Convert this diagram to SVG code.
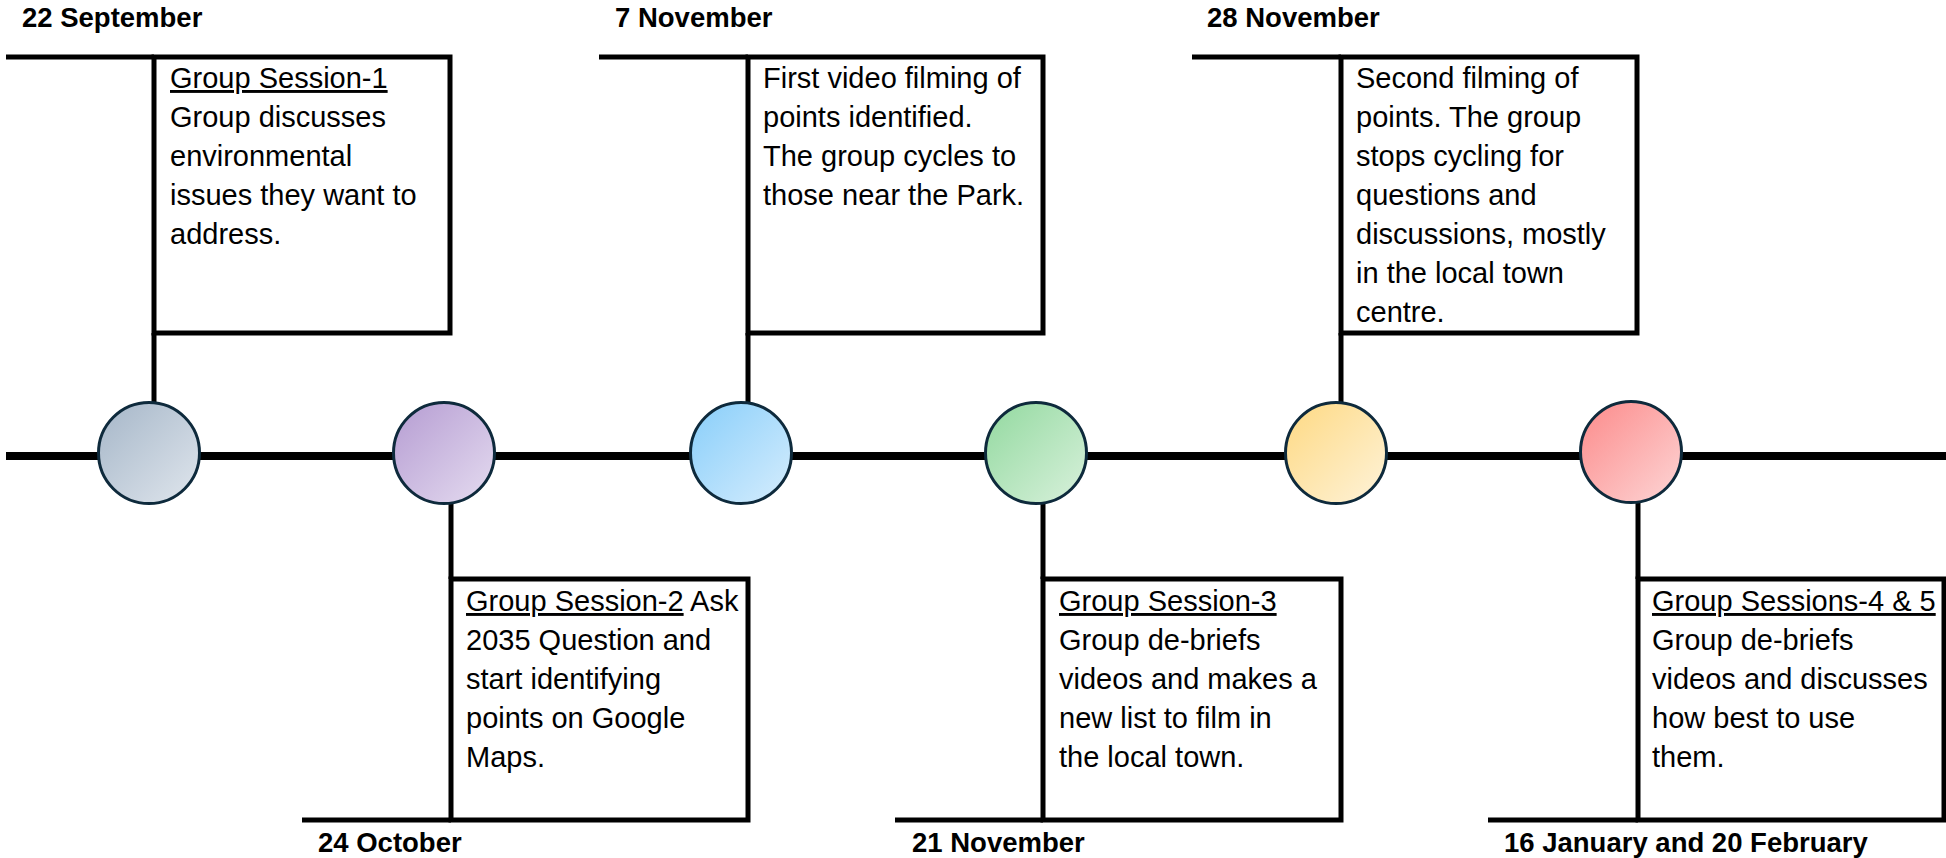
<svg xmlns="http://www.w3.org/2000/svg" width="1946" height="858" viewBox="0 0 1946 858">
  <style>
    .bg { fill: #ffffff; }
    .line { stroke: #000000; stroke-width: 5; fill: none; }
    .box { stroke: #000000; stroke-width: 5; fill: #ffffff; }
    .axis { stroke: #000000; stroke-width: 8; fill: none; }
    .dot { stroke: #0e2a3c; stroke-width: 3; }
    .body { font-family: "Liberation Sans", Arial, sans-serif; font-size: 29px; fill: #000000; }
    .date { font-family: "Liberation Sans", Arial, sans-serif; font-size: 27.5px; font-weight: bold; fill: #000000; }
    .u { text-decoration: underline; }
  </style>
  <defs>
    <linearGradient id="g1" x1="0" y1="0" x2="1" y2="1"><stop offset="0" stop-color="#a5b6c8"/><stop offset="1" stop-color="#e0e6ed"/></linearGradient>
    <linearGradient id="g2" x1="0" y1="0" x2="1" y2="1"><stop offset="0" stop-color="#b59cd2"/><stop offset="1" stop-color="#e5dcf0"/></linearGradient>
    <linearGradient id="g3" x1="0" y1="0" x2="1" y2="1"><stop offset="0" stop-color="#88cefa"/><stop offset="1" stop-color="#d6edfd"/></linearGradient>
    <linearGradient id="g4" x1="0" y1="0" x2="1" y2="1"><stop offset="0" stop-color="#92d99f"/><stop offset="1" stop-color="#d9f1dc"/></linearGradient>
    <linearGradient id="g5" x1="0" y1="0" x2="1" y2="1"><stop offset="0" stop-color="#fed982"/><stop offset="1" stop-color="#fef3da"/></linearGradient>
    <linearGradient id="g6" x1="0" y1="0" x2="1" y2="1"><stop offset="0" stop-color="#fc8a8a"/><stop offset="1" stop-color="#fdd6d6"/></linearGradient>
  </defs>
  <rect class="bg" x="0" y="0" width="1946" height="858"/>

  <g id="connectors">
    <line class="axis" x1="6" y1="456" x2="1946" y2="456"/>
    <line class="line" x1="6" y1="57" x2="154" y2="57"/>
    <line class="line" x1="154" y1="333" x2="154" y2="403"/>
    <line class="line" x1="451" y1="503" x2="451" y2="579"/>
    <line class="line" x1="302" y1="820" x2="451" y2="820"/>
    <line class="line" x1="599" y1="57" x2="748" y2="57"/>
    <line class="line" x1="748" y1="333" x2="748" y2="403"/>
    <line class="line" x1="1043" y1="503" x2="1043" y2="579"/>
    <line class="line" x1="895" y1="820" x2="1043" y2="820"/>
    <line class="line" x1="1192" y1="57" x2="1341" y2="57"/>
    <line class="line" x1="1341" y1="333" x2="1341" y2="403"/>
    <line class="line" x1="1638" y1="503" x2="1638" y2="579"/>
    <line class="line" x1="1488" y1="820" x2="1638" y2="820"/>
  </g>

  <g id="node-1">
    <circle class="dot" cx="149" cy="453" r="50.5" fill="url(#g1)"/>
    <rect class="box" x="154" y="57" width="296" height="276"/>
    <text class="date" x="22" y="27">22 September</text>
    <text class="body" x="170" y="88"><tspan class="u">Group Session-1</tspan></text>
    <text class="body" x="170" y="127">Group discusses</text>
    <text class="body" x="170" y="166">environmental</text>
    <text class="body" x="170" y="205">issues they want to</text>
    <text class="body" x="170" y="244">address.</text>
  </g>

  <g id="node-2">
    <circle class="dot" cx="444" cy="453" r="50.5" fill="url(#g2)"/>
    <rect class="box" x="451" y="579" width="297" height="241"/>
    <text class="date" x="318" y="852">24 October</text>
    <text class="body" x="466" y="611"><tspan class="u">Group Session-2</tspan> Ask</text>
    <text class="body" x="466" y="650">2035 Question and</text>
    <text class="body" x="466" y="689">start identifying</text>
    <text class="body" x="466" y="728">points on Google</text>
    <text class="body" x="466" y="767">Maps.</text>
  </g>

  <g id="node-3">
    <circle class="dot" cx="741" cy="453" r="50.5" fill="url(#g3)"/>
    <rect class="box" x="748" y="57" width="295" height="276"/>
    <text class="date" x="615" y="27">7 November</text>
    <text class="body" x="763" y="88">First video filming of</text>
    <text class="body" x="763" y="127">points identified.</text>
    <text class="body" x="763" y="166">The group cycles to</text>
    <text class="body" x="763" y="205">those near the Park.</text>
  </g>

  <g id="node-4">
    <circle class="dot" cx="1036" cy="453" r="50.5" fill="url(#g4)"/>
    <rect class="box" x="1043" y="579" width="298" height="241"/>
    <text class="date" x="912" y="852">21 November</text>
    <text class="body" x="1059" y="611"><tspan class="u">Group Session-3</tspan></text>
    <text class="body" x="1059" y="650">Group de-briefs</text>
    <text class="body" x="1059" y="689">videos and makes a</text>
    <text class="body" x="1059" y="728">new list to film in</text>
    <text class="body" x="1059" y="767">the local town.</text>
  </g>

  <g id="node-5">
    <circle class="dot" cx="1336" cy="453" r="50.5" fill="url(#g5)"/>
    <rect class="box" x="1341" y="57" width="296" height="276"/>
    <text class="date" x="1207" y="27">28 November</text>
    <text class="body" x="1356" y="88">Second filming of</text>
    <text class="body" x="1356" y="127">points. The group</text>
    <text class="body" x="1356" y="166">stops cycling for</text>
    <text class="body" x="1356" y="205">questions and</text>
    <text class="body" x="1356" y="244">discussions, mostly</text>
    <text class="body" x="1356" y="283">in the local town</text>
    <text class="body" x="1356" y="322">centre.</text>
  </g>

  <g id="node-6">
    <circle class="dot" cx="1631" cy="452" r="50.5" fill="url(#g6)"/>
    <rect class="box" x="1638" y="579" width="306" height="241"/>
    <text class="date" x="1504" y="852">16 January and 20 February</text>
    <text class="body" x="1652" y="611"><tspan class="u">Group Sessions-4 &amp; 5</tspan></text>
    <text class="body" x="1652" y="650">Group de-briefs</text>
    <text class="body" x="1652" y="689">videos and discusses</text>
    <text class="body" x="1652" y="728">how best to use</text>
    <text class="body" x="1652" y="767">them.</text>
  </g>
</svg>
